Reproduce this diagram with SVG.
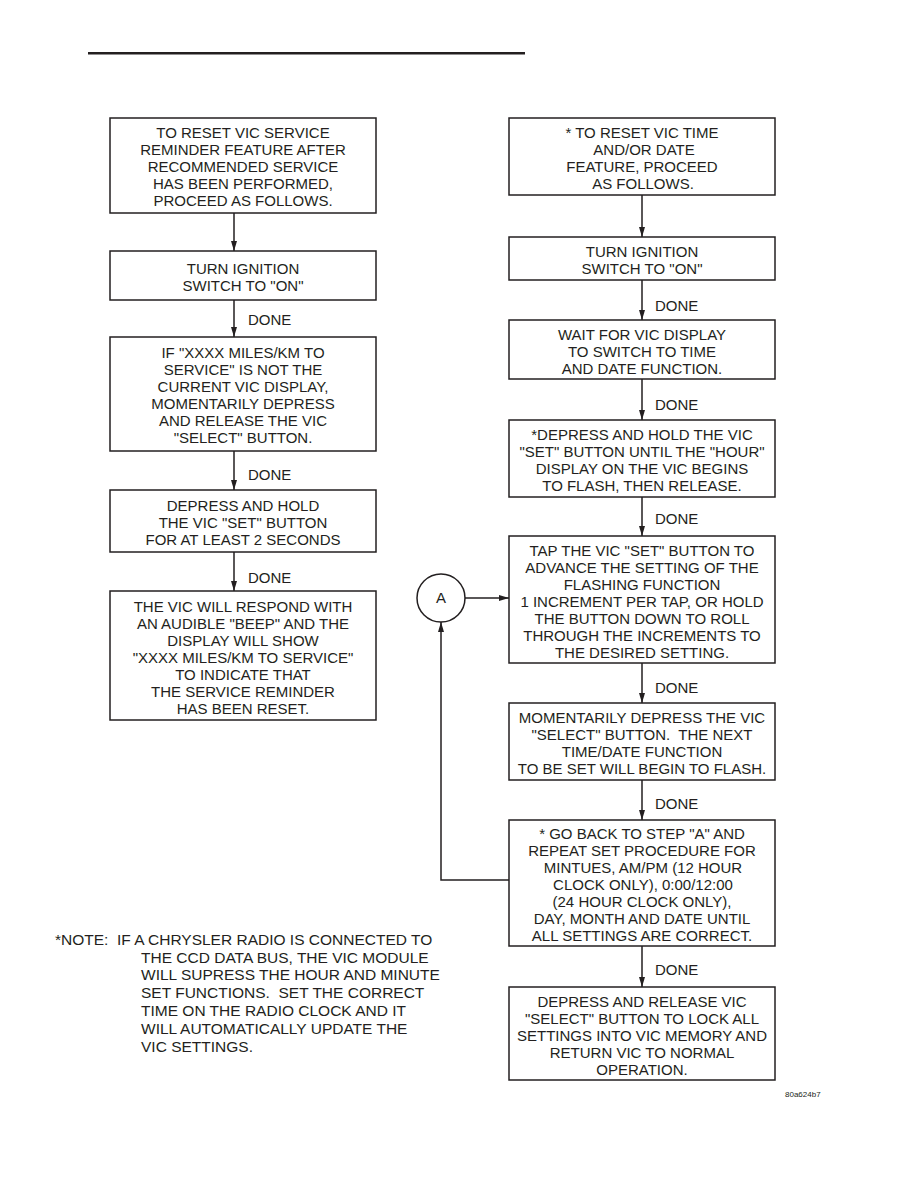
<svg xmlns="http://www.w3.org/2000/svg" width="918" height="1188" viewBox="0 0 918 1188">
<style>
.box{fill:#fff;stroke:#231f20;stroke-width:1.5}
.t{font-family:"Liberation Sans",Arial,sans-serif;font-size:15px;fill:#231f20;text-anchor:middle}
.l{font-family:"Liberation Sans",Arial,sans-serif;font-size:15px;fill:#231f20}
.n{font-family:"Liberation Sans",Arial,sans-serif;font-size:15.5px;fill:#231f20}
.c{stroke:#231f20;stroke-width:1.5;fill:none}
</style>
<defs>
<marker id="ah" markerWidth="10" markerHeight="8" refX="10" refY="4" orient="auto" markerUnits="userSpaceOnUse">
<path d="M0,1 L10,4 L0,7 Z" fill="#231f20"/>
</marker>
</defs>
<rect x="88" y="52" width="437" height="2.5" fill="#231f20"/>
<g id="connectors">
<line class="c" x1="234" y1="213" x2="234" y2="251" marker-end="url(#ah)"/>
<line class="c" x1="234" y1="300" x2="234" y2="337" marker-end="url(#ah)"/>
<line class="c" x1="234" y1="451" x2="234" y2="490" marker-end="url(#ah)"/>
<line class="c" x1="234" y1="552" x2="234" y2="591" marker-end="url(#ah)"/>
<line class="c" x1="642" y1="195" x2="642" y2="237" marker-end="url(#ah)"/>
<line class="c" x1="642" y1="280" x2="642" y2="320" marker-end="url(#ah)"/>
<line class="c" x1="642" y1="379" x2="642" y2="420" marker-end="url(#ah)"/>
<line class="c" x1="642" y1="497" x2="642" y2="536" marker-end="url(#ah)"/>
<line class="c" x1="642" y1="663" x2="642" y2="703" marker-end="url(#ah)"/>
<line class="c" x1="642" y1="780" x2="642" y2="820" marker-end="url(#ah)"/>
<line class="c" x1="642" y1="946" x2="642" y2="987" marker-end="url(#ah)"/>
<line class="c" x1="465" y1="598" x2="509" y2="598" marker-end="url(#ah)"/>
<polyline class="c" points="509,880 441,880 441,622" marker-end="url(#ah)"/>
<text class="l" x="248" y="325">DONE</text>
<text class="l" x="248" y="480">DONE</text>
<text class="l" x="248" y="583">DONE</text>
<text class="l" x="655" y="311">DONE</text>
<text class="l" x="655" y="410">DONE</text>
<text class="l" x="655" y="524">DONE</text>
<text class="l" x="655" y="693">DONE</text>
<text class="l" x="655" y="809">DONE</text>
<text class="l" x="655" y="975">DONE</text>
</g>
<g id="L1">
<rect class="box" x="110" y="118" width="266" height="95"/>
<text class="t" x="243" y="138">TO RESET VIC SERVICE</text>
<text class="t" x="243" y="155">REMINDER FEATURE AFTER</text>
<text class="t" x="243" y="172">RECOMMENDED SERVICE</text>
<text class="t" x="243" y="189">HAS BEEN PERFORMED,</text>
<text class="t" x="243" y="206">PROCEED AS FOLLOWS.</text>
</g>
<g id="L2">
<rect class="box" x="110" y="251" width="266" height="49"/>
<text class="t" x="243" y="273.5">TURN IGNITION</text>
<text class="t" x="243" y="290.5">SWITCH TO "ON"</text>
</g>
<g id="L3">
<rect class="box" x="110" y="337" width="266" height="114"/>
<text class="t" x="243" y="358">IF "XXXX MILES/KM TO</text>
<text class="t" x="243" y="375">SERVICE" IS NOT THE</text>
<text class="t" x="243" y="392">CURRENT VIC DISPLAY,</text>
<text class="t" x="243" y="409">MOMENTARILY DEPRESS</text>
<text class="t" x="243" y="426">AND RELEASE THE VIC</text>
<text class="t" x="243" y="443">"SELECT" BUTTON.</text>
</g>
<g id="L4">
<rect class="box" x="110" y="490" width="266" height="62"/>
<text class="t" x="243" y="510.5">DEPRESS AND HOLD</text>
<text class="t" x="243" y="527.5">THE VIC "SET" BUTTON</text>
<text class="t" x="243" y="544.5">FOR AT LEAST 2 SECONDS</text>
</g>
<g id="L5">
<rect class="box" x="110" y="591" width="266" height="129"/>
<text class="t" x="243" y="611.5">THE VIC WILL RESPOND WITH</text>
<text class="t" x="243" y="628.5">AN AUDIBLE "BEEP" AND THE</text>
<text class="t" x="243" y="645.5">DISPLAY WILL SHOW</text>
<text class="t" x="243" y="662.5">"XXXX MILES/KM TO SERVICE"</text>
<text class="t" x="243" y="679.5">TO INDICATE THAT</text>
<text class="t" x="243" y="696.5">THE SERVICE REMINDER</text>
<text class="t" x="243" y="713.5">HAS BEEN RESET.</text>
</g>
<g id="R1">
<rect class="box" x="509" y="118" width="266" height="77"/>
<text class="t" x="642" y="138">* TO RESET VIC TIME</text>
<text class="t" x="644" y="155">AND/OR DATE</text>
<text class="t" x="642" y="172">FEATURE, PROCEED</text>
<text class="t" x="643" y="189">AS FOLLOWS.</text>
</g>
<g id="R2">
<rect class="box" x="509" y="237" width="266" height="43"/>
<text class="t" x="642" y="256.5">TURN IGNITION</text>
<text class="t" x="642" y="273.5">SWITCH TO "ON"</text>
</g>
<g id="R3">
<rect class="box" x="509" y="320" width="266" height="59"/>
<text class="t" x="642" y="339.5">WAIT FOR VIC DISPLAY</text>
<text class="t" x="642" y="356.5">TO SWITCH TO TIME</text>
<text class="t" x="642" y="373.5">AND DATE FUNCTION.</text>
</g>
<g id="R4">
<rect class="box" x="509" y="420" width="266" height="77"/>
<text class="t" x="642" y="440">*DEPRESS AND HOLD THE VIC</text>
<text class="t" x="642" y="457">"SET" BUTTON UNTIL THE "HOUR"</text>
<text class="t" x="642" y="474">DISPLAY ON THE VIC BEGINS</text>
<text class="t" x="642" y="491">TO FLASH, THEN RELEASE.</text>
</g>
<g id="R5">
<rect class="box" x="509" y="536" width="266" height="127"/>
<text class="t" x="642" y="555.5">TAP THE VIC "SET" BUTTON TO</text>
<text class="t" x="642" y="572.5">ADVANCE THE SETTING OF THE</text>
<text class="t" x="642" y="589.5">FLASHING FUNCTION</text>
<text class="t" x="642" y="606.5">1 INCREMENT PER TAP, OR HOLD</text>
<text class="t" x="642" y="623.5">THE BUTTON DOWN TO ROLL</text>
<text class="t" x="642" y="640.5">THROUGH THE INCREMENTS TO</text>
<text class="t" x="642" y="657.5">THE DESIRED SETTING.</text>
</g>
<g id="A">
<circle class="box" cx="441" cy="598" r="24"/>
<text class="t" x="441" y="603">A</text>
</g>
<g id="R6">
<rect class="box" x="509" y="703" width="266" height="77"/>
<text class="t" x="642" y="723">MOMENTARILY DEPRESS THE VIC</text>
<text class="t" x="642" y="740" xml:space="preserve">"SELECT" BUTTON.  THE NEXT</text>
<text class="t" x="642" y="757">TIME/DATE FUNCTION</text>
<text class="t" x="642" y="774">TO BE SET WILL BEGIN TO FLASH.</text>
</g>
<g id="R7">
<rect class="box" x="509" y="820" width="266" height="126"/>
<text class="t" x="642" y="839">* GO BACK TO STEP "A" AND</text>
<text class="t" x="642" y="856">REPEAT SET PROCEDURE FOR</text>
<text class="t" x="643" y="873">MINTUES, AM/PM (12 HOUR</text>
<text class="t" x="643" y="890">CLOCK ONLY), 0:00/12:00</text>
<text class="t" x="642" y="907">(24 HOUR CLOCK ONLY),</text>
<text class="t" x="642" y="924">DAY, MONTH AND DATE UNTIL</text>
<text class="t" x="642" y="941">ALL SETTINGS ARE CORRECT.</text>
</g>
<g id="R8">
<rect class="box" x="509" y="987" width="266" height="93"/>
<text class="t" x="642" y="1007">DEPRESS AND RELEASE VIC</text>
<text class="t" x="642" y="1024">"SELECT" BUTTON TO LOCK ALL</text>
<text class="t" x="642" y="1041">SETTINGS INTO VIC MEMORY AND</text>
<text class="t" x="642" y="1058">RETURN VIC TO NORMAL</text>
<text class="t" x="642" y="1075">OPERATION.</text>
</g>
<g id="note">
<text class="n" x="55" y="945" xml:space="preserve">*NOTE:  IF A CHRYSLER RADIO IS CONNECTED TO</text>
<text class="n" x="141" y="963">THE CCD DATA BUS, THE VIC MODULE</text>
<text class="n" x="141" y="980">WILL SUPRESS THE HOUR AND MINUTE</text>
<text class="n" x="141" y="998" xml:space="preserve">SET FUNCTIONS.  SET THE CORRECT</text>
<text class="n" x="141" y="1016">TIME ON THE RADIO CLOCK AND IT</text>
<text class="n" x="141" y="1034">WILL AUTOMATICALLY UPDATE THE</text>
<text class="n" x="141" y="1052">VIC SETTINGS.</text>
</g>
<text x="785" y="1097" style="font-family:'Liberation Sans',Arial,sans-serif;font-size:8px;fill:#231f20">80a624b7</text>
</svg>
